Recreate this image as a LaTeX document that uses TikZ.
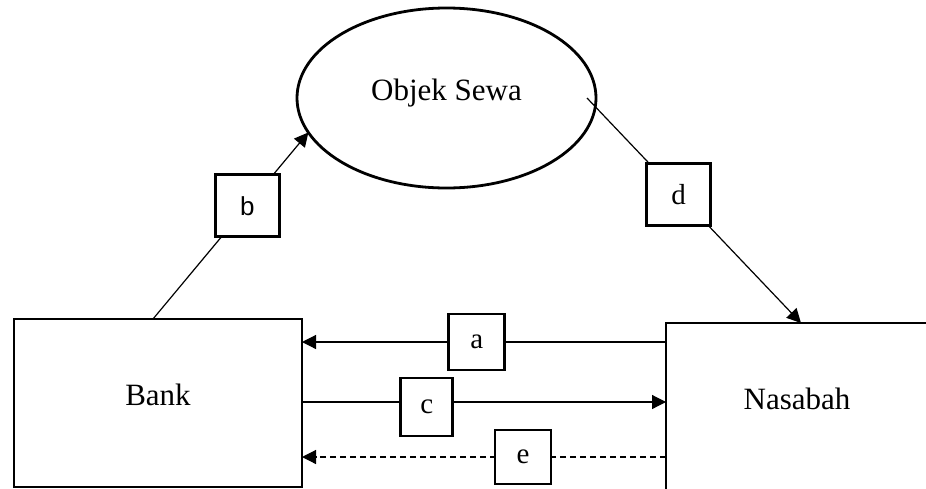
\documentclass[tikz,border=0pt]{standalone}
\usepackage{fontspec}
\setmainfont{Liberation Serif}
\newfontfamily\arialfont{Liberation Sans}
\usetikzlibrary{shapes.geometric, arrows.meta, positioning}

\begin{document}
\begin{tikzpicture}[x=1pt, y=-1pt,
			party/.style = {
				draw, line width=2.8pt, inner sep=0pt, outer sep=0pt,
				text depth=17pt, font=\fontsize{31}{36}\selectfont
			},
			lbl/.style = {
				draw, solid, fill=white, line width=2.8pt, inner sep=0pt, outer sep=0pt,
				minimum width=56pt, minimum height=56pt,
				font=\fontsize{29}{34}\selectfont
			},
			flow/.style = {
				line width=1.2pt, -{Triangle[length=14pt, width=14pt]}
			}]
			\useasboundingbox (0,0) rectangle (926,488);
			% parties and the leased object
			\node (bank) [party, rectangle, minimum width=288pt, minimum height=168pt] at (158,403) {Bank};
			\node (nasabah) [party, rectangle, minimum width=262pt, minimum height=168pt] at (797,407) {Nasabah};
			\node (objek) [party, ellipse, minimum width=299pt, minimum height=180pt] at (446.5,98) {Objek Sewa};
			% flows
			\draw [flow] ([xshift=-5pt]bank.north) -- node[lbl, pos=0.607, minimum width=64pt, minimum height=62pt, font=\arialfont\fontsize{26}{30}\selectfont] {b} (objek.194);
			\draw [flow] ([xshift=-9pt]objek.east) -- node[lbl, pos=0.428, minimum width=64pt, minimum height=62pt] {d} ([xshift=4pt]nasabah.north);
			\draw [flow] (nasabah.west |- 0,342) -- node[lbl, pos=0.52] {a} (bank.east |- 0,342);
			\draw [flow] (bank.east |- 0,402) -- node[lbl, pos=0.343, yshift=-5pt, minimum width=52pt, minimum height=58pt] {c} (nasabah.west |- 0,402);
			\draw [flow, dash pattern=on 6pt off 4pt] (nasabah.west |- 0,457) -- node[lbl, pos=0.393, minimum height=54pt] {e} (bank.east |- 0,457);
		\end{tikzpicture}
\end{document}
